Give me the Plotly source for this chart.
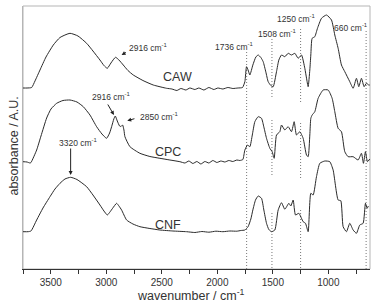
import plotly.graph_objects as go

# ---------------- data ----------------
caw_wn = [3750, 3714, 3672, 3642, 3597, 3543, 3477, 3417, 3327, 3255, 3177, 3120, 3057, 3021, 2991,
          2958, 2917, 2886, 2847, 2805, 2757, 2670, 2577, 2457,
          2409, 2364, 2328, 2283, 2247, 2202, 2166, 2121, 2076, 2031, 1995, 1950, 1905, 1860, 1815, 1773,
          1752, 1737, 1723, 1707, 1680, 1653, 1632, 1608, 1587, 1563, 1542, 1518, 1497, 1467, 1446, 1422,
          1392, 1362, 1332, 1302, 1272, 1242, 1212, 1197, 1182, 1167, 1158, 1146, 1122, 1098, 1062, 1017,
          972, 942, 912, 882, 852, 807, 777, 747, 726, 702, 678, 657, 636, 627]
caw_abs = [181, 181, 181.5, 188, 199, 212, 224, 231.5, 235.7, 233, 225.7, 218, 209, 203.5, 200.7,
           206, 211.7, 209, 204, 198.5, 194, 188.5, 184, 180.7,
           180, 178.5, 180.5, 179, 181, 179.5, 181, 179, 181.5, 179.5, 181, 180, 181.5, 180.5, 181, 181.5,
           187.3, 202.3, 199, 194, 204, 212, 214, 211.5, 207.3, 197, 187.3, 183.5, 182.3, 197.3, 209, 214,
           212.3, 215.7, 214, 215.7, 210.7, 214, 200.7, 191, 182.3, 199, 214, 230.7, 232.3, 240.7, 250.7, 254,
           249, 234, 220.7, 204, 197.3, 187.3, 180.7, 190.7, 182.3, 190.7, 182.3, 185.7, 184, 184]

cpc_wn = [3750, 3714, 3687, 3678, 3627, 3588, 3537, 3498, 3447, 3390, 3327, 3264, 3207, 3147, 3087,
          3039, 2997, 2970, 2952, 2932, 2919, 2901, 2880, 2868, 2853, 2841, 2832, 2787, 2697, 2607, 2517,
          2427, 2337, 2292, 2256, 2220, 2184, 2148, 2112, 2076, 2040, 2004, 1968, 1932, 1896, 1860, 1824,
          1797, 1770, 1752, 1728, 1707, 1685, 1662, 1632, 1602, 1581, 1557, 1527, 1506, 1488, 1467, 1437,
          1422, 1392, 1362, 1332, 1308, 1287, 1257, 1227, 1197, 1182, 1167, 1158, 1146, 1122, 1092, 1047,
          1002, 966, 942, 912, 882, 852, 822, 777, 732, 702, 684, 666, 648, 627]
cpc_abs = [107.3, 107, 106, 106.5, 119, 133, 151, 160, 165.7, 168.5, 169, 167, 162.3, 154, 142.3,
           135, 130.7, 136, 142.3, 150, 153, 148, 143, 142.5, 144, 139, 132.3, 122.3, 115.7, 112.5, 110.7,
           109, 107.3, 106, 108, 105.5, 107.5, 105, 107.5, 106, 108.5, 106.5, 108, 107, 108.5, 107.5, 109,
           108.5, 109.5, 119, 124, 122.3, 134, 147.3, 152.3, 150.7, 142, 130.7, 120.7, 117.3, 110.7, 134, 137.3,
           144, 139, 142.3, 137.3, 147.3, 134, 137.3, 130.7, 114, 112.3, 134, 150.7, 154, 157.3, 170.7, 179,
           179, 170.7, 157.3, 140.7, 137.3, 117.3, 112.3, 112.3, 109, 115.7, 105.7, 117.3, 107.3, 110]

cnf_wn = [3750, 3705, 3678, 3627, 3570, 3507, 3462, 3417, 3372, 3321, 3264, 3177, 3120, 3057, 3021,
          2991, 2967, 2943, 2907, 2886, 2862, 2817, 2760, 2697, 2607, 2517, 2400, 2277,
          2202, 2139, 2076, 2013, 1950, 1887, 1824, 1788,
          1752, 1723, 1698, 1680, 1656, 1632, 1602, 1581, 1557, 1536, 1512, 1482, 1452, 1422, 1392, 1356,
          1338, 1317, 1296, 1266, 1227, 1206, 1182, 1158, 1137, 1107, 1077, 1032, 987, 957, 912, 888, 867,
          837, 807, 777, 747, 717, 687, 666, 651, 640]
cnf_abs = [37.3, 37.3, 38, 49, 61, 72.3, 80, 85.7, 90, 91.7, 89.5, 82.3, 74, 64, 58,
           54, 57, 60.7, 65.7, 63, 59, 49, 45, 42.3, 40.5, 39, 38, 37.3,
           36.5, 37.5, 36.8, 37.8, 37.3, 38, 37.8, 38.5,
           39, 42.3, 50, 59, 69, 73, 70.7, 59, 45.7, 39.5, 37.3, 39, 59, 66.3, 59.7, 65.7,
           63, 69, 54, 55.7, 47.3, 45.7, 37.3, 75.7, 74, 92.3, 105.7, 108, 107.3, 99, 69, 68.3, 42.3,
           37.3, 45.7, 39, 35.7, 44, 45.7, 65.7, 60.7, 63]

sample_names = ["CAW", "CPC", "CNF"]
sample_label_pos = [(2359, 191.7), (2442, 117.3), (2445, 44)]

# marker bands: wavenumber, label position (wn, abs), line segments (abs ranges)
band_wn = [1736, 1508, 1250, 660]
band_labels = ["1736 cm<sup>-1</sup>", "1508 cm<sup>-1</sup>", "1250 cm<sup>-1</sup>", "660 cm<sup>-1</sup>"]
band_label_pos = [(1842, 222.3), (1460, 235.5), (1287, 250.5), (798, 242)]
band_segments = [[(0, 219)],
                 [(172, 231), (94, 151), (1, 57)],
                 [(167, 240), (91, 147), (1, 59)],
                 [(0, 239)]]

peak_labels = ["2916 cm<sup>-1</sup>", "2916 cm<sup>-1</sup>", "2850 cm<sup>-1</sup>", "3320 cm<sup>-1</sup>"]
peak_label_pos = [(2616, 222), (2952, 173), (2517, 152.3), (3246, 126.3)]
peak_arrow_tail = [(2810, 217.5), (2994, 166), (2733, 150.7), (3321, 122)]
peak_arrow_head = [(2862, 214), (2931, 154), (2811, 148.3), (3321, 94)]

tick_vals = [3500, 3000, 2500, 2000, 1500, 1000]
tick_text = ["3500", "3000", "2500", "2000", "1500", "1000"]

# ---------------- figure ----------------
FONT = "Liberation Sans, Arial, sans-serif"
TXT = "#333333"
fig = go.Figure()

for wn_list, segs in zip(band_wn, band_segments):
    xs, ys = [], []
    for y0, y1 in segs:
        xs += [wn_list, wn_list, None]
        ys += [y0, y1, None]
    fig.add_trace(go.Scatter(x=xs, y=ys, mode="lines",
                             line=dict(color="#777777", width=1, dash="1px,2px"),
                             hoverinfo="skip", showlegend=False))

for wn, ab in [(caw_wn, caw_abs), (cpc_wn, cpc_abs), (cnf_wn, cnf_abs)]:
    fig.add_trace(go.Scatter(x=wn, y=ab, mode="lines",
                             line=dict(color="#2a2a2a", width=1, shape="spline", smoothing=0.5),
                             showlegend=False))

ann = []
for name, (x, y) in zip(sample_names, sample_label_pos):
    ann.append(dict(x=x, y=y, text=name, showarrow=False, font=dict(size=12.5, color=TXT, family=FONT)))
for t, (x, y) in zip(band_labels, band_label_pos):
    ann.append(dict(x=x, y=y, text=t, showarrow=False, font=dict(size=8.5, color=TXT, family=FONT)))
for t, (x, y) in zip(peak_labels, peak_label_pos):
    ann.append(dict(x=x, y=y, text=t, showarrow=False, font=dict(size=8.5, color=TXT, family=FONT)))
for (tx, ty), (hx, hy) in zip(peak_arrow_tail, peak_arrow_head):
    ann.append(dict(x=hx, y=hy, ax=tx, ay=ty, axref="x", ayref="y", text="", showarrow=True,
                    arrowhead=2, arrowsize=0.8, arrowwidth=1, arrowcolor="#222222", standoff=0))

ann.append(dict(xref="paper", yref="paper", x=0.484, y=-0.099, xanchor="center", yanchor="middle",
                text="wavenumber / cm<sup>-1</sup>",
                showarrow=False, font=dict(size=12.5, color=TXT, family=FONT)))
ann.append(dict(xref="paper", yref="paper", x=-0.027, y=0.468, xanchor="center", yanchor="middle",
                text="absorbance / A.U.", textangle=-90,
                showarrow=False, font=dict(size=12.5, color=TXT, family=FONT)))

fig.update_layout(
    width=378, height=305,
    margin=dict(l=23, r=8, t=6, b=36),
    paper_bgcolor="white", plot_bgcolor="white",
    annotations=ann,
    shapes=[dict(type="rect", xref="paper", yref="paper", x0=0, y0=0, x1=1, y1=1,
                 line=dict(color="#b5b5b5", width=1), layer="below")],
    xaxis=dict(range=[3750, 625], showgrid=False, zeroline=False,
               showline=True, linecolor="#333333", linewidth=1,
               ticks="outside", ticklen=4, tickcolor="#333333",
               tickvals=tick_vals, ticktext=tick_text,
               tickfont=dict(size=10, color=TXT, family=FONT),
               minor=dict(ticks="outside", ticklen=4, tickcolor="#333333", dtick=250, tick0=3750)),
    yaxis=dict(range=[0, 263], showgrid=False, zeroline=False, showticklabels=False,
               showline=True, linecolor="#b5b5b5", linewidth=1, ticks=""),
)

fig.write_html("out.html", config={"displayModeBar": False},
               post_script="document.body.style.margin='0';document.body.style.padding='0';")
